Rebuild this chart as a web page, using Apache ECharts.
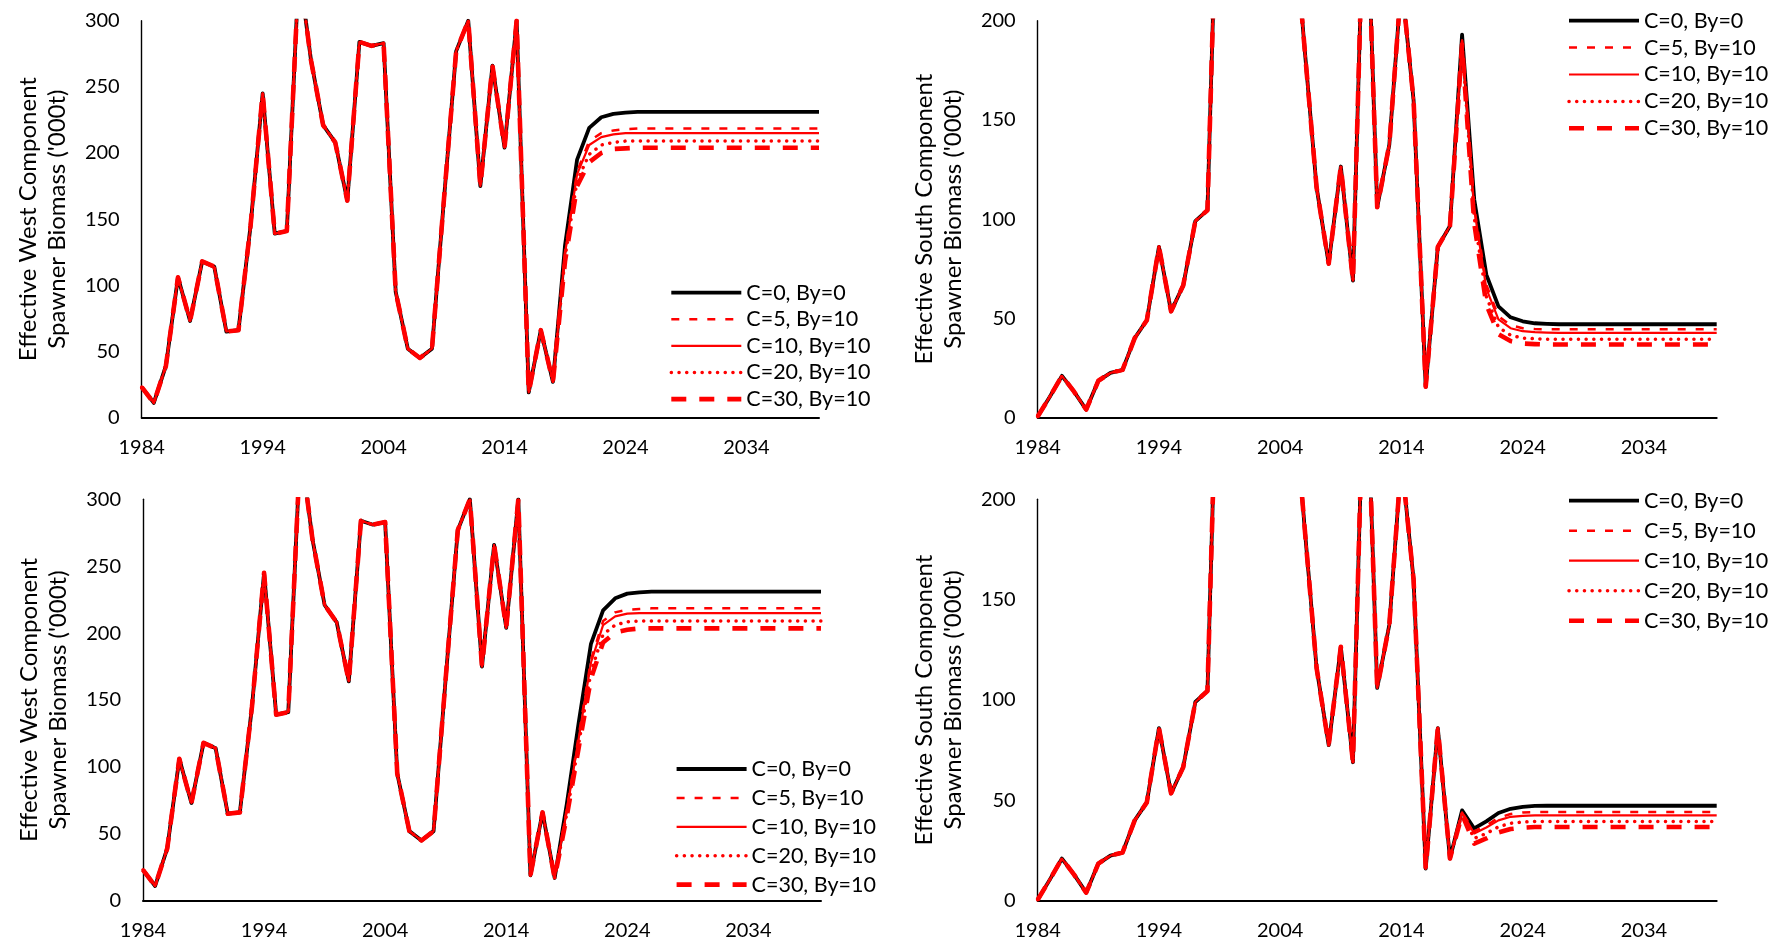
<!DOCTYPE html>
<html>
<head>
<meta charset="utf-8">
<script src="https://cdn.jsdelivr.net/npm/echarts@6/dist/echarts.min.js"></script>
<style>
  html, body { margin: 0; padding: 0; background: #fff; }
  #chart { width: 1778px; height: 944px; }
</style>
</head>
<body>
<div id="chart"></div>
<script>
// Years on the shared category axis
const years = [1984,1985,1986,1987,1988,1989,1990,1991,1992,1993,1994,1995,1996,1997,1998,1999,
  2000,2001,2002,2003,2004,2005,2006,2007,2008,2009,2010,2011,2012,2013,2014,2015,2016,2017,2018,
  2019,2020,2021,2022,2023,2024,2025,2026,2027,2028,2029,2030,2031,2032,2033,2034,2035,2036,2037,
  2038,2039,2040];

const scenarioNames = ['C=0, By=0', 'C=5, By=10', 'C=10, By=10', 'C=20, By=10', 'C=30, By=10'];

// West component, estimated history 1984-2017 ('000t)
const westHist = [23, 11, 39, 106, 73, 118, 114, 65, 66, 145,
  245, 139, 141, 340, 270, 221, 208, 164, 284, 281,
  283, 95, 52, 45, 52, 166, 277, 300, 175, 266,
  204, 300, 19, 66];

// West projections 2018-2040, upper panel
const westA_c0  = [27, 130, 195, 219, 227, 229.5, 230.5, 231, 231, 231, 231, 231, 231, 231, 231, 231, 231, 231, 231, 231, 231, 231, 231];
const westA_c5  = [27, 125, 186, 209, 215, 217, 218, 218.5, 218.5, 218.5, 218.5, 218.5, 218.5, 218.5, 218.5, 218.5, 218.5, 218.5, 218.5, 218.5, 218.5, 218.5, 218.5];
const westA_c10 = [27, 124, 184, 206, 212, 214, 215, 215, 215, 215, 215, 215, 215, 215, 215, 215, 215, 215, 215, 215, 215, 215, 215];
const westA_c20 = [27, 121, 179, 199, 206, 208, 209, 209, 209, 209, 209, 209, 209, 209, 209, 209, 209, 209, 209, 209, 209, 209, 209];
const westA_c30 = [27, 118, 175, 193, 200, 203, 203.5, 204, 204, 204, 204, 204, 204, 204, 204, 204, 204, 204, 204, 204, 204, 204, 204];

// West projections 2018-2040, lower panel
const westB_c0  = [17, 72, 134, 192, 217, 226, 229.5, 230.5, 231, 231, 231, 231, 231, 231, 231, 231, 231, 231, 231, 231, 231, 231, 231];
const westB_c5  = [17, 68, 124, 180, 209, 215.5, 217.5, 218, 218.5, 218.5, 218.5, 218.5, 218.5, 218.5, 218.5, 218.5, 218.5, 218.5, 218.5, 218.5, 218.5, 218.5, 218.5];
const westB_c10 = [17, 67, 122, 178, 206, 212.5, 214.5, 215, 215, 215, 215, 215, 215, 215, 215, 215, 215, 215, 215, 215, 215, 215, 215];
const westB_c20 = [17, 65, 118, 171, 199, 206, 208.5, 209, 209, 209, 209, 209, 209, 209, 209, 209, 209, 209, 209, 209, 209, 209, 209];
const westB_c30 = [17, 63, 115, 166, 193, 200.5, 202.5, 203.5, 203.5, 203.5, 203.5, 203.5, 203.5, 203.5, 203.5, 203.5, 203.5, 203.5, 203.5, 203.5, 203.5, 203.5, 203.5];

// South component, estimated history 1984-2015 ('000t)
const southHist = [0.5, 10.5, 21, 13, 4, 18.5, 22.5, 24, 40, 49,
  86, 53.5, 66.5, 99, 104.5, 320, 380, 420, 400, 450,
  420, 260, 187, 116, 77.5, 126.5, 69, 290, 106, 137.5,
  220, 160];

// South projections 2016-2040, upper panel
const southA_c0  = [15.5, 86, 96.5, 193, 110, 72, 56, 50.5, 48.5, 47.5, 47.2, 47, 47, 47, 47, 47, 47, 47, 47, 47, 47, 47, 47, 47, 47];
const southA_c5  = [15.5, 86, 96.5, 190, 106, 67, 51, 46.5, 45, 44.6, 44.5, 44.5, 44.5, 44.5, 44.5, 44.5, 44.5, 44.5, 44.5, 44.5, 44.5, 44.5, 44.5, 44.5, 44.5];
const southA_c10 = [15.5, 86, 96.5, 190, 105, 65, 49.5, 45, 43.5, 43, 42.8, 42.7, 42.7, 42.7, 42.7, 42.7, 42.7, 42.7, 42.7, 42.7, 42.7, 42.7, 42.7, 42.7, 42.7];
const southA_c20 = [15.5, 86, 96.5, 189, 101, 61, 45.5, 41.5, 40, 39.7, 39.5, 39.5, 39.5, 39.5, 39.5, 39.5, 39.5, 39.5, 39.5, 39.5, 39.5, 39.5, 39.5, 39.5, 39.5];
const southA_c30 = [15.5, 86, 96.5, 188, 98, 57, 42, 38.5, 37.3, 37, 36.8, 36.8, 36.8, 36.8, 36.8, 36.8, 36.8, 36.8, 36.8, 36.8, 36.8, 36.8, 36.8, 36.8, 36.8];

// South projections 2016-2040, lower panel
const southB_c0  = [16, 86, 21, 45, 36, 39.5, 43.7, 45.8, 46.8, 47.2, 47.3, 47.3, 47.3, 47.3, 47.3, 47.3, 47.3, 47.3, 47.3, 47.3, 47.3, 47.3, 47.3, 47.3, 47.3];
const southB_c5  = [16, 86, 21, 44, 34.5, 37.5, 41.3, 43.2, 44, 44.2, 44.2, 44.2, 44.2, 44.2, 44.2, 44.2, 44.2, 44.2, 44.2, 44.2, 44.2, 44.2, 44.2, 44.2, 44.2];
const southB_c10 = [16, 86, 21, 44, 33.5, 36.5, 40, 41.8, 42.3, 42.5, 42.5, 42.5, 42.5, 42.5, 42.5, 42.5, 42.5, 42.5, 42.5, 42.5, 42.5, 42.5, 42.5, 42.5, 42.5];
const southB_c20 = [16, 86, 21, 43.5, 31, 33.5, 36.8, 38.6, 39.2, 39.5, 39.5, 39.5, 39.5, 39.5, 39.5, 39.5, 39.5, 39.5, 39.5, 39.5, 39.5, 39.5, 39.5, 39.5, 39.5];
const southB_c30 = [16, 86, 21, 43, 28.5, 31, 34, 35.7, 36.4, 36.7, 36.7, 36.7, 36.7, 36.7, 36.7, 36.7, 36.7, 36.7, 36.7, 36.7, 36.7, 36.7, 36.7, 36.7, 36.7];

// Y axis tick setup per component
const westTicks = { max: 300, interval: 50 };
const southTicks = { max: 200, interval: 50 };

const westTitle = "Effective West Component\nSpawner Biomass ('000t)";
const southTitle = "Effective South Component\nSpawner Biomass ('000t)";

const FONT = 'Lato';
const RED = '#ff0000';

// Line look for each scenario
const lineLook = {
  'C=0, By=0':   { color: '#000000', width: 3.8, type: 'solid', cap: 'butt' },
  'C=5, By=10':  { color: RED, width: 2.5, type: [8, 10], cap: 'butt' },
  'C=10, By=10': { color: RED, width: 2.2, type: 'solid', cap: 'butt' },
  'C=20, By=10': { color: RED, width: 3.5, type: [0.1, 7.6], cap: 'round' },
  'C=30, By=10': { color: RED, width: 4.6, type: [15, 13], cap: 'butt' }
};

const panels = [
  { hist: westHist,  tails: [westA_c0, westA_c5, westA_c10, westA_c20, westA_c30], ticks: westTicks, title: westTitle,
    grid: { left: 141.7, top: 20.7, width: 677.3, height: 396.8 }, legend: { left: 669, top: 281.7, gap: 4.6 } },
  { hist: southHist, tails: [southA_c0, southA_c5, southA_c10, southA_c20, southA_c30], ticks: southTicks, title: southTitle,
    grid: { left: 1037.7, top: 20.7, width: 679, height: 396.8 }, legend: { left: 1566.7, top: 9.7, gap: 4.9 } },
  { hist: westHist,  tails: [westB_c0, westB_c5, westB_c10, westB_c20, westB_c30], ticks: westTicks, title: westTitle,
    grid: { left: 143, top: 499.3, width: 678, height: 401.4 }, legend: { left: 674.3, top: 758, gap: 6.9 } },
  { hist: southHist, tails: [southB_c0, southB_c5, southB_c10, southB_c20, southB_c30], ticks: southTicks, title: southTitle,
    grid: { left: 1037.7, top: 499.3, width: 679, height: 401.4 }, legend: { left: 1566.7, top: 489.7, gap: 8.0 } }
];

const grids = [], xAxes = [], yAxes = [], series = [], legends = [];

panels.forEach((p, i) => {
  grids.push(Object.assign({ containLabel: false }, p.grid));

  xAxes.push({
    type: 'category', gridIndex: i, data: years, boundaryGap: false,
    axisTick: { show: false },
    axisLine: { lineStyle: { color: '#000', width: 2 } },
    axisLabel: { interval: 9, color: '#000', fontFamily: FONT, fontSize: 20, margin: 20 },
    splitLine: { show: false }
  });

  yAxes.push({
    type: 'value', gridIndex: i, min: 0, max: p.ticks.max, interval: p.ticks.interval,
    axisLine: { show: true, lineStyle: { color: '#000', width: 1.4 } },
    axisTick: { show: false },
    splitLine: { show: false },
    axisLabel: { color: '#000', fontFamily: FONT, fontSize: 20, margin: 22 },
    name: p.title, nameLocation: 'middle', nameRotate: 90, nameGap: 70,
    nameTextStyle: { fontFamily: FONT, fontSize: 24, color: '#000', lineHeight: 29 }
  });

  scenarioNames.forEach((name, k) => {
    const look = lineLook[name];
    series.push({
      name, type: 'line', xAxisIndex: i, yAxisIndex: i,
      data: p.hist.concat(p.tails[k]),
      symbol: 'none', clip: true, animation: false, silent: true,
      z: k === 0 ? 2 : 3,
      lineStyle: { color: look.color, width: look.width, type: look.type, cap: look.cap, join: 'round' },
      itemStyle: { color: look.color }
    });
  });

  legends.push({
    orient: 'vertical', left: p.legend.left, top: p.legend.top, padding: 0,
    itemGap: p.legend.gap, itemWidth: 70, itemHeight: 22, selectedMode: false,
    itemStyle: { opacity: 0, borderWidth: 0 },
    textStyle: { fontFamily: FONT, fontSize: 21.5, color: '#000', lineHeight: 22 },
    data: scenarioNames.map(n => ({
      name: n,
      lineStyle: { width: lineLook[n].width, type: lineLook[n].type, cap: lineLook[n].cap, color: lineLook[n].color }
    }))
  });
});

const chart = echarts.init(document.getElementById('chart'), null, { renderer: 'canvas' });
chart.setOption({
  animation: false,
  backgroundColor: '#ffffff',
  grid: grids, xAxis: xAxes, yAxis: yAxes, legend: legends, series
});
</script>
</body>
</html>
